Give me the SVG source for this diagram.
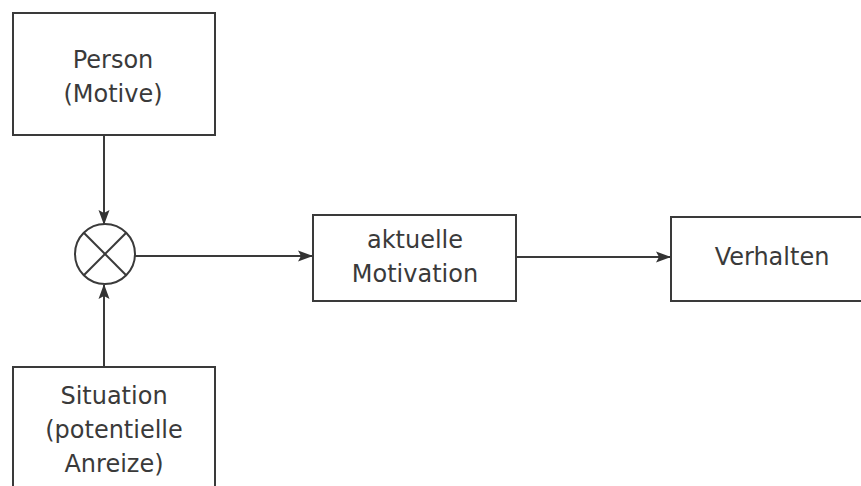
<svg xmlns="http://www.w3.org/2000/svg" width="861" height="486" viewBox="0 0 861 486">
<style>
.box{fill:#fff;stroke:#3a3a3a;stroke-width:2}
.t{font-family:"DejaVu Sans","Noto Sans",sans-serif;font-size:24px;fill:#3a3a3a;text-anchor:middle}
.c{stroke:#3a3a3a;stroke-width:2;fill:none}
</style>
<defs>
<marker id="a" markerWidth="15" markerHeight="12" refX="14" refY="6" orient="auto" markerUnits="userSpaceOnUse">
<path d="M0,0.5 L15,6 L0,11.5 L3,6 Z" fill="#333"/>
</marker>
</defs>
<rect width="861" height="486" fill="#fff"/>
<g id="connectors">
<line class="c" x1="104" y1="136" x2="104" y2="224" marker-end="url(#a)"/>
<line class="c" x1="104" y1="367" x2="104" y2="285" marker-end="url(#a)"/>
<line class="c" x1="134" y1="256" x2="312" y2="256" marker-end="url(#a)"/>
<line class="c" x1="516" y1="257" x2="670" y2="257" marker-end="url(#a)"/>
</g>
<g id="person">
<rect class="box" x="13" y="13" width="202" height="122"/>
<text class="t" x="113" y="68">Person</text>
<text class="t" x="113" y="102">(Motive)</text>
</g>
<g id="combine">
<circle class="c" cx="105" cy="254" r="30"/>
<line class="c" x1="83.8" y1="232.8" x2="126.2" y2="275.2"/>
<line class="c" x1="126.2" y1="232.8" x2="83.8" y2="275.2"/>
</g>
<g id="motivation">
<rect class="box" x="313" y="215" width="203" height="86"/>
<text class="t" x="415" y="248">aktuelle</text>
<text class="t" x="415" y="282">Motivation</text>
</g>
<g id="verhalten">
<rect class="box" x="671" y="217" width="200" height="84"/>
<text class="t" x="772" y="265">Verhalten</text>
</g>
<g id="situation">
<rect class="box" x="13" y="367" width="202" height="130"/>
<text class="t" x="114" y="404">Situation</text>
<text class="t" x="114" y="438">(potentielle</text>
<text class="t" x="114" y="472">Anreize)</text>
</g>
</svg>
